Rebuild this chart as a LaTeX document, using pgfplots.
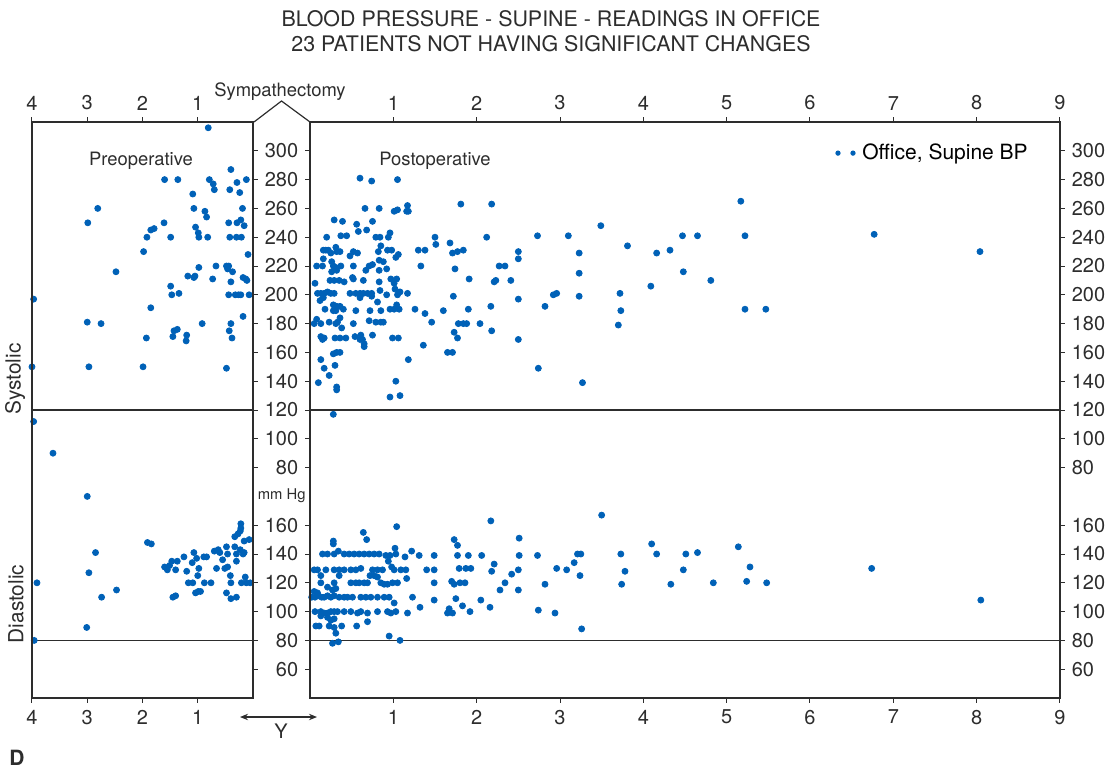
\documentclass[border=0pt]{standalone}
\usepackage{fontspec}
\setmainfont{TeX Gyre Heros}
\usepackage{pgfplots}
\pgfplotsset{compat=1.18}
\usepackage{pgfplotstable}
\usetikzlibrary{arrows.meta}

\definecolor{ptblue}{RGB}{0,97,183}
\definecolor{axcol}{RGB}{45,45,45}

% systolic readings, preoperative (years before surgery, mm Hg)
\pgfplotstableread{
x s
0.81 316
1.60 280
1.36 280
0.79 280
0.72 277
0.70 273
0.40 287
0.42 273
0.29 278
0.12 280
0.24 271
1.09 270
2.81 260
1.07 260
0.87 258
0.84 254
0.19 260
2.99 250
1.61 250
1.04 247
0.44 250
0.29 250
0.22 252
0.16 248
1.92 240
1.85 245
1.79 246
1.49 240
0.99 243
0.98 240
0.82 240
0.42 240
0.30 240
0.21 240
1.98 230
0.09 228
2.48 216
1.18 213
1.07 212
1.05 213
0.98 219
0.67 220
0.73 211
0.48 220
0.44 220
0.46 218
0.37 216
0.40 209
0.18 212
0.13 211
0.11 210
1.49 206
1.47 200
1.34 201
0.44 200
0.32 200
0.26 200
0.22 200
0.07 200
3.97 197
1.85 191
0.18 185
3.00 181
2.75 180
0.92 180
0.40 180
1.43 175
1.37 176
1.45 171
1.20 172
1.21 168
0.43 175
0.38 170
1.93 170
4.00 150
2.97 150
1.99 150
0.48 149
3.97 112
3.62 90
3.00 60
}\presys

% diastolic readings, preoperative
\pgfplotstableread{
x d
3.91 120
3.96 80
3.01 89
2.97 127
2.85 141
2.74 110
2.47 115
1.91 148
1.84 147
1.60 131
1.55 129
1.51 132
1.47 135
1.37 135
1.40 129
1.45 110
1.40 111
1.25 138
1.20 128
1.17 120
1.09 120
1.07 141
1.10 134
1.02 137
1.00 125
0.98 130
1.04 113
0.99 114
0.95 114
0.89 138
0.84 138
0.88 120
0.76 120
0.70 142
0.63 143
0.60 141
0.66 130
0.55 136
0.51 130
0.46 131
0.48 145
0.46 140
0.48 113
0.41 125
0.40 120
0.40 109
0.30 110
0.33 152
0.30 140
0.30 135
0.33 145
0.27 154
0.23 156
0.22 158
0.22 161
0.23 143
0.18 140
0.16 141
0.16 149
0.07 150
0.21 120
0.12 120
0.05 120
0.14 124
}\predia

% systolic readings, postoperative (years after surgery)
\pgfplotstableread{
x s
0.60 281
0.74 279
1.05 280
1.17 262
1.16 258
1.18 258
1.01 258
1.05 259
0.66 260
0.83 260
1.81 263
2.18 263
0.29 252
0.56 249
0.58 244
0.75 251
0.68 245
0.39 251
0.20 240
0.37 241
0.44 241
0.79 240
0.84 240
0.94 240
0.96 243
1.50 240
1.51 235
1.68 236
2.12 240
0.16 231
0.19 231
0.22 231
0.31 233
0.32 230
0.36 230
0.25 229
0.52 230
0.57 229
0.48 227
0.82 230
0.85 234
0.93 231
0.98 231
1.03 226
1.06 228
1.30 231
1.38 231
1.71 229
1.77 230
1.84 231
0.16 225
0.08 220
0.15 220
0.26 223
0.28 220
0.31 219
0.37 220
0.26 216
0.32 217
0.52 220
0.71 220
0.75 221
0.83 224
0.88 223
0.92 218
0.83 217
1.33 220
1.74 218
2.27 220
0.06 208
0.24 210
0.29 210
0.35 210
0.41 209
0.51 212
0.52 211
0.64 210
0.67 217
0.83 209
0.97 211
1.04 211
1.01 208
1.02 204
1.91 211
2.21 209
2.23 210
0.09 201
0.13 201
0.17 201
0.21 202
0.25 201
0.29 201
0.12 196
0.16 198
0.48 201
0.55 201
0.60 201
0.64 201
0.69 201
0.74 201
0.74 199
0.60 198
0.84 203
0.92 200
1.05 200
1.08 202
1.17 201
1.72 199
0.81 195
0.18 190
0.28 193
0.28 189
0.32 192
0.36 192
0.31 189
0.40 190
0.55 189
0.72 189
0.85 189
0.96 190
1.01 190
1.04 193
1.07 190
1.26 190
1.60 189
1.90 190
2.17 192
1.38 187
0.36 184
0.38 177
0.05 180
0.08 183
0.13 180
0.23 181
0.31 180
0.33 181
0.52 180
0.71 182
0.79 181
0.85 181
0.88 181
1.46 181
1.78 180
1.84 180
1.88 180
2.04 180
2.18 175
0.13 171
0.17 170
0.15 169
0.30 170
0.36 170
0.43 170
0.54 171
0.60 169
0.63 169
0.65 166
0.65 164
0.61 172
0.75 172
0.99 170
1.06 170
1.36 165
1.73 174
1.77 170
1.65 160
1.71 160
0.28 159
0.32 160
0.36 160
0.13 155
0.17 149
0.23 144
0.30 151
1.18 155
0.10 139
0.32 136
0.32 134
1.03 140
0.96 129
1.08 130
0.28 117
2.73 241
3.10 241
3.49 248
2.50 230
2.50 225
2.34 220
3.23 229
3.23 215
3.81 234
4.16 229
4.32 231
4.47 241
4.65 241
5.17 265
5.22 241
4.48 216
4.81 210
4.09 206
2.41 210
2.50 197
2.82 192
2.92 200
2.96 201
3.23 199
3.72 201
3.73 189
3.70 179
5.22 190
5.47 190
2.50 169
2.74 149
3.27 139
6.77 242
8.04 230
}\postsys

% diastolic readings, postoperative
\pgfplotstableread{
x d
1.04 159
0.64 155
0.68 150
0.28 149
0.28 147
0.15 140
0.21 140
0.29 140
0.34 142
0.41 140
0.47 140
0.53 140
0.59 140
0.65 140
0.71 140
0.77 140
0.83 140
0.91 139
0.96 139
1.03 140
1.02 144
1.14 138
1.22 142
1.31 139
1.49 139
0.05 129
0.09 129
0.19 129
0.29 129
0.35 129
0.41 129
0.49 129
0.55 129
0.61 130
0.75 129
0.81 129
0.87 129
1.01 129
1.09 129
1.15 129
1.40 129
1.49 129
0.94 135
0.98 131
0.13 125
0.35 125
0.72 125
0.77 125
0.81 124
1.16 123
0.13 120
0.29 120
0.49 120
0.55 120
0.59 120
0.65 120
0.69 120
0.85 120
0.89 119
0.93 119
0.99 120
1.05 120
1.49 120
0.21 117
0.27 115
0.31 116
0.05 114
0.09 113
0.02 110
0.06 110
0.10 111
0.14 110
0.17 110
0.21 111
0.25 110
0.29 111
0.35 110
0.41 110
0.45 110
0.51 110
0.61 110
0.67 110
0.73 110
0.81 110
0.89 110
0.95 110
1.01 106
1.23 110
1.32 103
1.49 108
1.67 102
1.71 99
1.65 99
0.06 100
0.13 100
0.17 99
0.21 99
0.25 100
0.29 100
0.33 100
0.41 100
0.49 100
0.57 99
0.61 100
0.69 99
0.81 100
0.93 100
0.97 99
1.03 100
1.17 99
0.13 97
0.21 96
0.29 95
0.25 94
0.07 90
0.11 90
0.23 90
0.29 89
0.38 90
0.56 90
0.69 93
0.31 85
0.27 78
0.34 79
0.95 83
1.08 80
1.73 150
1.77 146
1.77 139
1.90 139
2.06 139
2.21 133
2.17 163
1.79 130
1.87 130
1.93 130
1.70 121
1.73 119
1.80 120
1.86 120
1.75 109
1.83 104
2.05 108
2.16 103
1.92 100
2.51 151
2.51 139
2.73 139
3.21 140
3.25 140
3.50 167
3.73 140
4.10 147
4.16 140
4.51 140
4.65 141
5.14 145
2.18 128
2.42 126
2.34 120
2.28 115
2.50 129
2.50 115
2.82 119
2.96 130
3.08 129
3.17 134
3.24 125
3.78 128
3.74 119
4.48 129
4.33 119
4.84 120
5.24 121
5.48 120
5.28 131
2.74 101
2.94 99
3.26 88
6.74 130
8.05 108
}\postdia

\pgfplotsset{
  panelbase/.style={
    scale only axis, height=288pt, ymin=-80, ymax=320,
    axis line style={draw=axcol, line width=0.6pt},
    tick style={draw=axcol, line width=0.5pt},
    tick align=outside, major tick length=2.4pt,
    ytick={-60,-40,-20,0,20,40,80,100,120,140,160,180,200,220,240,260,280,300},
    yticklabels={60,80,100,120,140,160,80,100,120,140,160,180,200,220,240,260,280,300},
    ticklabel style={font=\fontsize{10}{12}\selectfont, text=axcol},
    /pgf/number format/assume math mode=true,
  },
  leftpanel/.style={panelbase, width=110.5pt, xmin=0, xmax=4, x dir=reverse,
    xtick={1,2,3,4}, xtick pos=both, ytick pos=right, yticklabels={}},
  rightpanel/.style={panelbase, width=375pt, xmin=0, xmax=9,
    xtick={1,2,3,4,5,6,7,8,9}, xtick pos=both, ytick pos=both},
  dots/.style={only marks, mark=*, mark size=1.5pt, color=ptblue,
    mark options={solid, draw=none, fill=ptblue}},
}

\begin{document}
\begin{tikzpicture}[x=0.5pt, y=-0.5pt]
\useasboundingbox (0,0) rectangle (1114,771);
\coordinate (L) at (32,698);
\coordinate (R) at (310,698);

% preoperative panel
\begin{axis}[leftpanel, at={(L)}, anchor=south west]
\addplot[dots] table[x=x, y=s] {\presys};
\addplot[dots] table[x=x, y expr=\thisrow{d}-120] {\predia};
\draw[axcol, line width=0.6pt] (axis cs:0,120) -- (axis cs:4,120);
\draw[axcol, line width=0.6pt] (axis cs:0,-40) -- (axis cs:4,-40);
\end{axis}
\begin{axis}[leftpanel, at={(L)}, anchor=south west, xticklabel pos=upper]
\end{axis}

% postoperative panel
\begin{axis}[rightpanel, at={(R)}, anchor=south west, yticklabel pos=left,
  legend style={draw=none, fill=none, at={(rel axis cs:0.70,0.946)},
    anchor=west, font=\fontsize{10.5}{12}\selectfont, inner sep=0pt},
  legend image code/.code={
    \fill[ptblue] (0pt,0pt) circle (1.1pt);
    \fill[ptblue] (7.5pt,0pt) circle (1.1pt);
    \path (10pt,0pt);}]
\addplot[dots] table[x=x, y=s] {\postsys};
\addlegendentry{Office, Supine BP}
\addplot[dots, forget plot] table[x=x, y expr=\thisrow{d}-120] {\postdia};
\draw[axcol, line width=0.6pt] (axis cs:0,120) -- (axis cs:9,120);
\draw[axcol, line width=0.6pt] (axis cs:0,-40) -- (axis cs:9,-40);
\end{axis}
\begin{axis}[rightpanel, at={(R)}, anchor=south west,
  xticklabel pos=upper, yticklabel pos=right]
\end{axis}

% bracket and annotations
\draw[axcol, line width=0.6pt] (254,122) -- (281.5,101) -- (310,122);
\node[font=\fontsize{9.2}{11}\selectfont, text=axcol] at (280,92) {Sympathectomy};
\node[font=\fontsize{9.2}{11}\selectfont, text=axcol] at (141,161) {Preoperative};
\node[font=\fontsize{9.2}{11}\selectfont, text=axcol] at (435,161) {Postoperative};
\node[font=\fontsize{7.4}{9}\selectfont, text=axcol, anchor=east, inner sep=0pt] at (306,496) {mm Hg};
\draw[axcol, line width=0.6pt, {Stealth[length=4pt,width=3.2pt]}-{Stealth[length=4pt,width=3.2pt]}] (240,717) -- (317,717);
\node[font=\fontsize{10}{12}\selectfont, text=axcol] at (281,731) {Y};
\node[font=\fontsize{10.4}{12}\selectfont, text=axcol, rotate=90] at (15,379) {Systolic};
\node[font=\fontsize{10.4}{12}\selectfont, text=axcol, rotate=90] at (16,604) {Diastolic};
\node[font=\fontsize{10.7}{12}\selectfont, text=axcol] at (551,19) {BLOOD PRESSURE - SUPINE - READINGS IN OFFICE};
\node[font=\fontsize{10.7}{12}\selectfont, text=axcol] at (551,44) {23 PATIENTS NOT HAVING SIGNIFICANT CHANGES};
\node[font=\fontsize{10.5}{12}\selectfont\bfseries, text=axcol] at (17,758) {D};
\end{tikzpicture}
\end{document}
